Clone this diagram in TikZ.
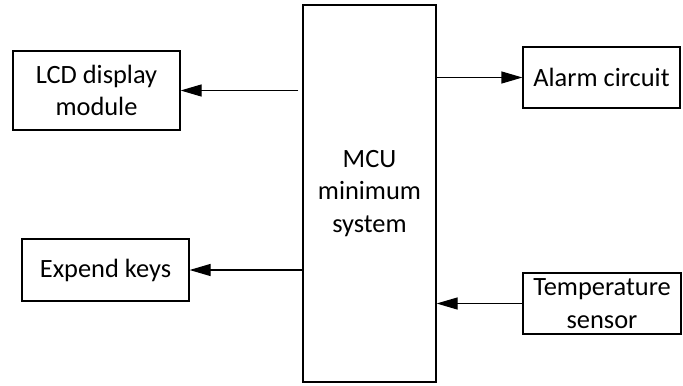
\documentclass[tikz,border=0pt]{standalone}
\usepackage{fontspec}
\setmainfont{Carlito}
\usepackage{tikz}
\usetikzlibrary{arrows.meta}

\begin{document}
\begin{tikzpicture}[font=\fontsize{13.2}{16.2}\selectfont, line width=0.6pt, >={Triangle[length=10.5pt,width=6pt]}, blk/.style = {draw, rectangle, align=center, inner sep=0pt}]
                \useasboundingbox (-184.75pt,96.75pt) rectangle (156.75pt,-95.75pt);
                \node[blk, minimum width=66.5pt, minimum height=188.5pt] (mcu) {MCU\\minimum\\system};
                \node[blk, minimum width=83.5pt, minimum height=39.5pt] (lcd) [left of=mcu, node distance=136.5pt, yshift=51.5pt] {LCD display\\module};
                \node[blk, minimum width=83.5pt, minimum height=31pt] (keys) [left of=mcu, node distance=132pt, yshift=-38.25pt] {Expend keys};
                \node[blk, minimum width=78.5pt, minimum height=30.5pt] (alarm) [right of=mcu, node distance=116pt, yshift=58pt] {Alarm circuit};
                \node[blk, minimum width=79pt, minimum height=30.5pt] (temp) [right of=mcu, node distance=116.25pt, yshift=-55pt] {Temperature\\sensor};
                \coordinate (lcdout) at (mcu.west |- lcd.east);
                \draw[->] ([xshift=-2pt]lcdout) -- (lcd.east);
                \draw[->] (mcu.east |- alarm.west) -- (alarm.west);
                \draw[->] (mcu.west |- keys.east) -- (keys.east);
                \draw[->] (temp.west) -- (mcu.east |- temp.west);
            \end{tikzpicture}
\end{document}
